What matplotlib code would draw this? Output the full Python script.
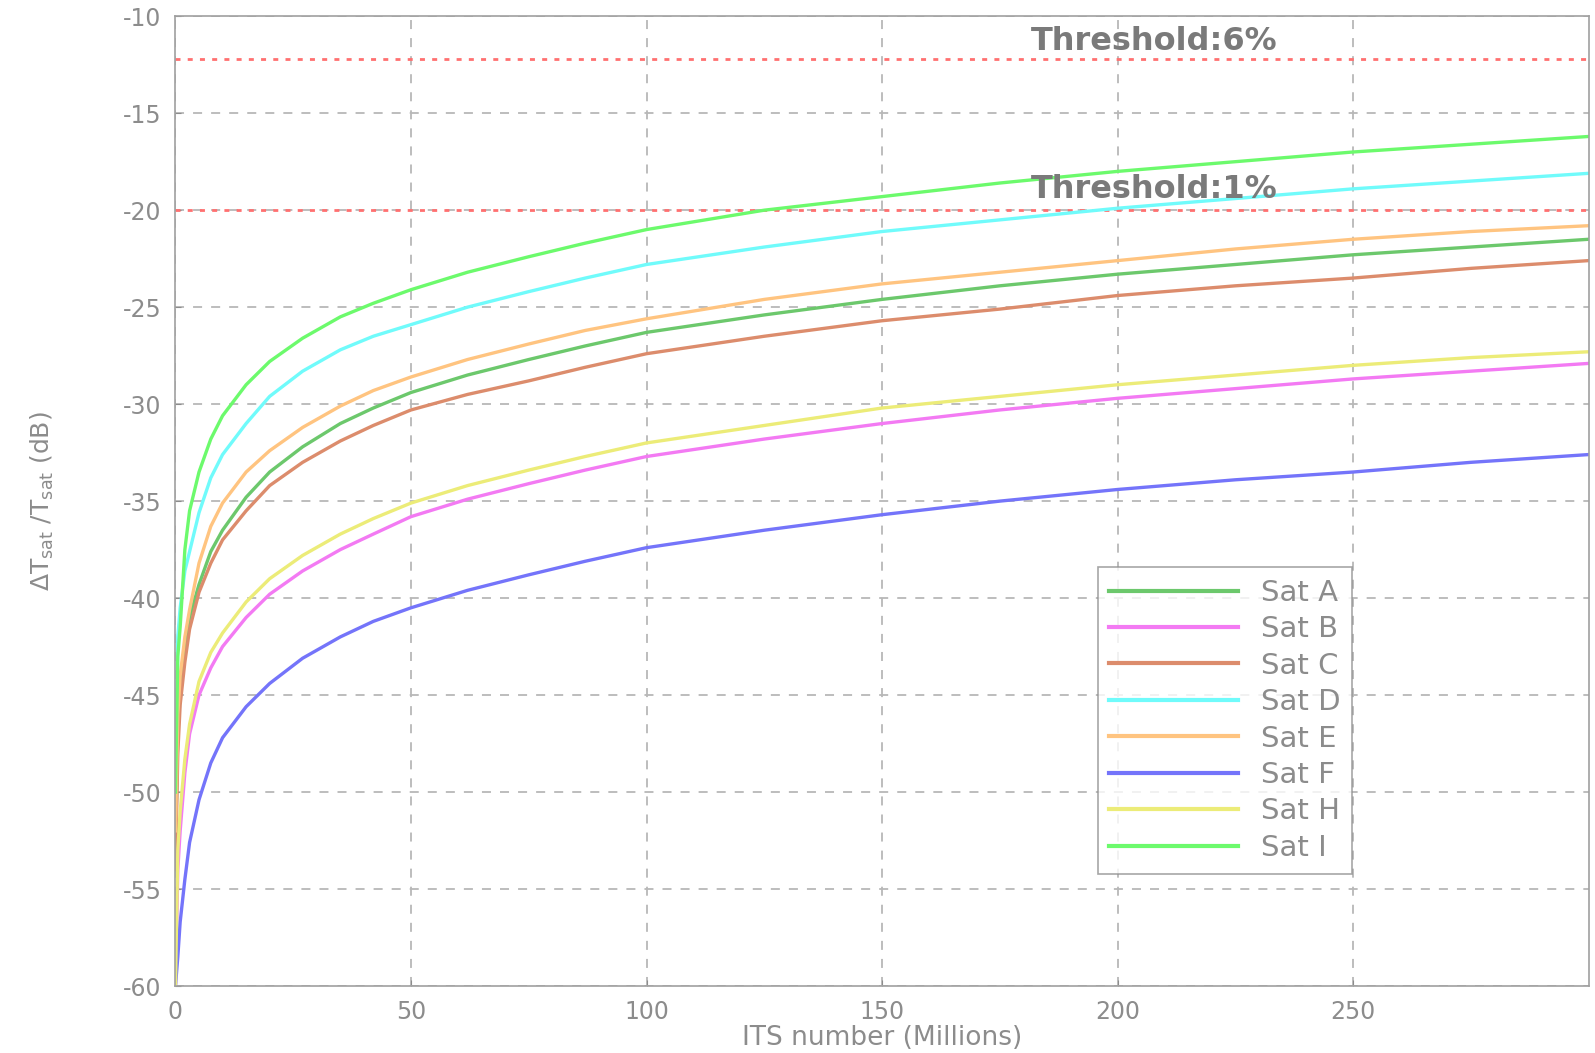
import numpy as np
import matplotlib.pyplot as plt
import matplotlib as mpl

mpl.rcParams["font.family"] = "DejaVu Sans"
mpl.rcParams["mathtext.fontset"] = "dejavusans"
mpl.rcParams["axes.unicode_minus"] = False

# =========================================================
# Data
# =========================================================
its_millions = [0, 0.5, 1, 2, 3, 5, 7.5, 10, 15, 20, 27, 35, 42, 50, 62, 75, 87,
                100, 125, 150, 175, 200, 225, 250, 275, 300]

sat_a = [-53, -47, -45, -42.5, -41, -39.3, -37.6, -36.5, -34.8, -33.5, -32.2, -31.0, -30.2,
         -29.4, -28.5, -27.7, -27.0, -26.3, -25.4, -24.6, -23.9, -23.3, -22.8, -22.3, -21.9, -21.5]
sat_b = [-60, -54, -52, -49, -47, -45, -43.6, -42.5, -41.0, -39.8, -38.6, -37.5, -36.7,
         -35.8, -34.9, -34.1, -33.4, -32.7, -31.8, -31.0, -30.3, -29.7, -29.2, -28.7, -28.3, -27.9]
sat_c = [-54, -48, -45.5, -43.3, -41.6, -39.7, -38.2, -37.0, -35.5, -34.2, -33.0, -31.9, -31.1,
         -30.3, -29.5, -28.8, -28.1, -27.4, -26.5, -25.7, -25.1, -24.4, -23.9, -23.5, -23.0, -22.6]
sat_d = [-49, -42, -40.5, -38.6, -37.6, -35.6, -33.8, -32.6, -31.0, -29.6, -28.3, -27.2, -26.5,
         -25.9, -25.0, -24.2, -23.5, -22.8, -21.9, -21.1, -20.5, -19.9, -19.4, -18.9, -18.5, -18.1]
sat_e = [-52, -46, -44, -42.0, -40.6, -38.2, -36.3, -35.1, -33.5, -32.4, -31.2, -30.1, -29.3,
         -28.6, -27.7, -26.9, -26.2, -25.6, -24.6, -23.8, -23.2, -22.6, -22.0, -21.5, -21.1, -20.8]
sat_f = [-60, -58.5, -56.7, -54.5, -52.6, -50.4, -48.5, -47.2, -45.6, -44.4, -43.1, -42.0, -41.2,
         -40.5, -39.6, -38.8, -38.1, -37.4, -36.5, -35.7, -35.0, -34.4, -33.9, -33.5, -33.0, -32.6]
sat_h = [-60, -53, -51, -48.3, -46.5, -44.3, -42.8, -41.8, -40.2, -39.0, -37.8, -36.7, -35.9,
         -35.1, -34.2, -33.4, -32.7, -32.0, -31.1, -30.2, -29.6, -29.0, -28.5, -28.0, -27.6, -27.3]
sat_i = [-50, -43, -41.5, -37.5, -35.5, -33.5, -31.8, -30.6, -29.0, -27.8, -26.6, -25.5, -24.8,
         -24.1, -23.2, -22.4, -21.7, -21.0, -20.0, -19.3, -18.6, -18.0, -17.5, -17.0, -16.6, -16.2]

series_names = ["Sat A", "Sat B", "Sat C", "Sat D", "Sat E", "Sat F", "Sat H", "Sat I"]
series_values = [sat_a, sat_b, sat_c, sat_d, sat_e, sat_f, sat_h, sat_i]
series_colors = ["#6cc86c", "#f37af3", "#dc8c6c", "#70fbfb",
                 "#ffc480", "#7474fa", "#ecec78", "#6cfa6c"]

thresholds_db = [-12.2, -20.0]
threshold_labels = ["Threshold:6%", "Threshold:1%"]
threshold_text_y = [-11.3, -18.95]

x_ticks = [0, 50, 100, 150, 200, 250]
y_ticks = list(range(-60, -9, 5))

# =========================================================
# Plot
# =========================================================
fig = plt.figure(figsize=(15.95, 10.53), dpi=100)
ax = fig.add_axes([0.110, 0.0636, 0.886, 0.921])

grey = "#8c8c8c"

ax.grid(True, linestyle=(0, (5, 5)), color="#b8b8b8", linewidth=1.3)
ax.set_axisbelow(True)

for yv in thresholds_db:
    ax.axhline(yv, color="#ff7070", linestyle=(0, (1.8, 2.6)), linewidth=2.0, zorder=1.5)

for name, vals, col in zip(series_names, series_values, series_colors):
    ax.plot(its_millions, vals, color=col, linewidth=2.4, label=name, zorder=2)

for txt, ty in zip(threshold_labels, threshold_text_y):
    ax.text(181.5, ty, txt, fontsize=23, fontweight="bold", color="#7a7a7a",
            va="center", ha="left", zorder=3)

ax.set_xlim(0, 300)
ax.set_ylim(-60, -10)
ax.set_xticks(x_ticks)
ax.set_yticks(y_ticks)
ax.tick_params(direction="in", length=4, colors=grey, labelsize=17, pad=10)
for sp in ax.spines.values():
    sp.set_color("#a0a0a0")
    sp.set_linewidth(1.2)

ax.set_xlabel("ITS number (Millions)", fontsize=19, color=grey, labelpad=1)
ax.set_ylabel(r"$\Delta$T$_{\rm sat}$ /T$_{\rm sat}$ (dB)", fontsize=18, color=grey, labelpad=48)

leg = ax.legend(loc="upper left", bbox_to_anchor=(0.6525, 0.432), borderaxespad=0,
                fontsize=21, frameon=True, fancybox=False, handlelength=4.4,
                labelspacing=0.29, handletextpad=0.8, borderpad=0.4, labelcolor=grey)
leg.get_frame().set_edgecolor("#909090")
leg.get_frame().set_linewidth(1.2)
for ln in leg.get_lines():
    ln.set_linewidth(3)

fig.savefig("out.png", dpi=100)
